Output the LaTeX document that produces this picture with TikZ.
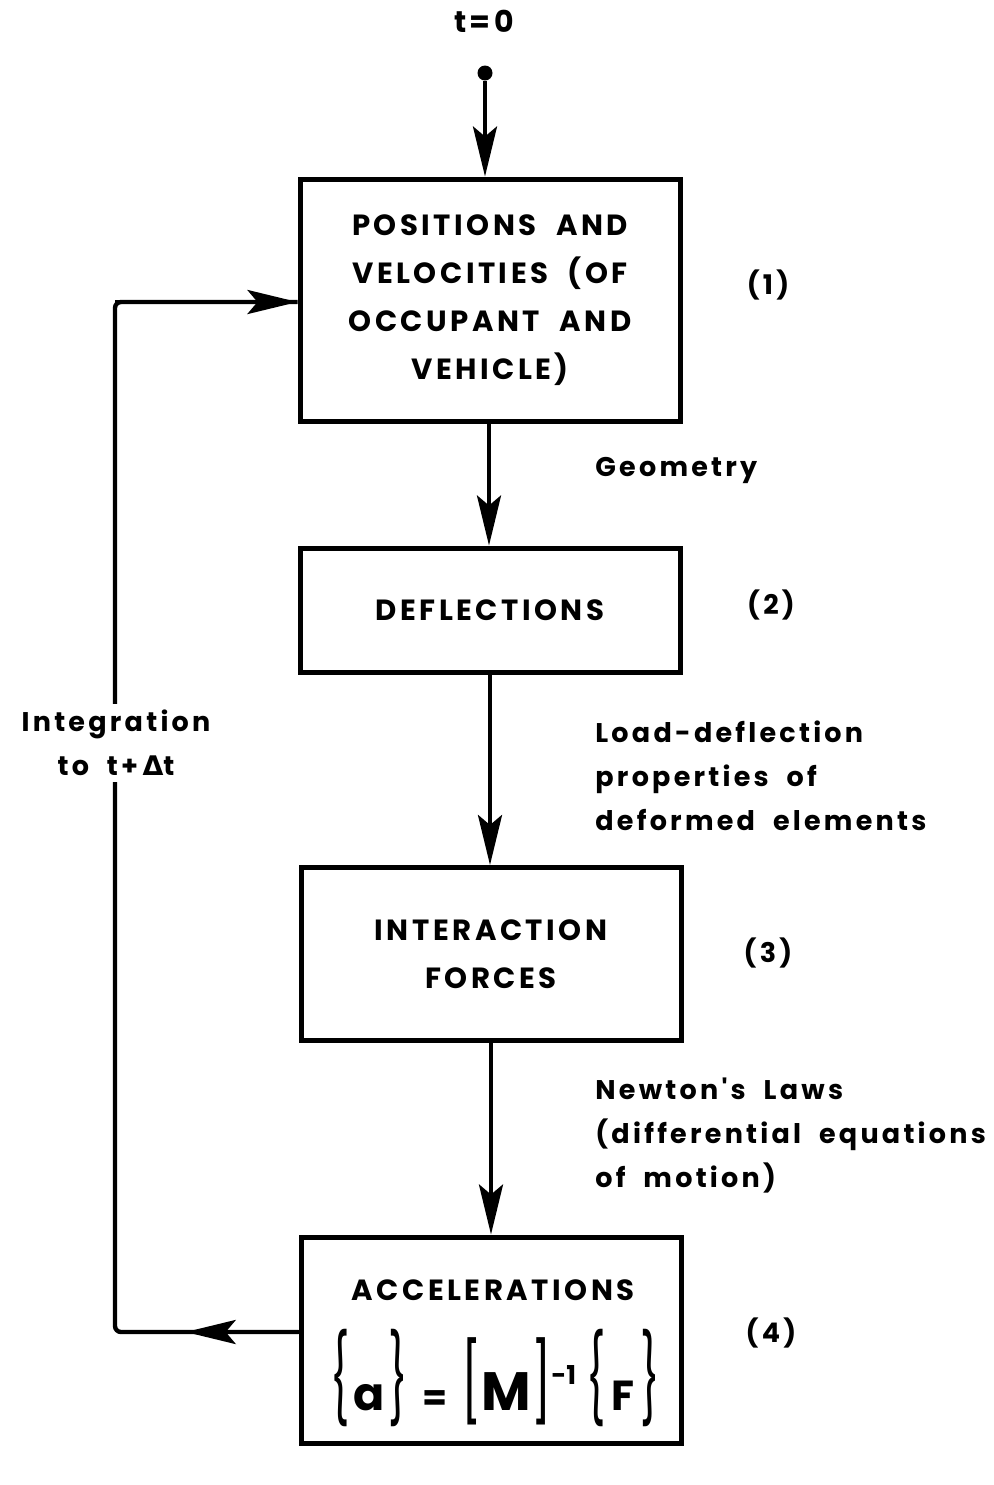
\documentclass[tikz,border=0pt]{standalone}
\usepackage{fontspec}
\usepackage{graphicx}
\setmainfont{Poppins}
\newfontfamily\lblfont{Poppins}[LetterSpace=12,WordSpace=1.8]
\newfontfamily\boxfont{Poppins}[LetterSpace=12,WordSpace=2]
\newfontfamily\grkfont{DejaVu Sans}
\usetikzlibrary{arrows.meta,calc}
\begin{document}
\begin{tikzpicture}[x=0.5pt,y=-0.5pt,
  box/.style={draw,line width=2.5pt,minimum width=190pt,align=center,
    font=\boxfont\bfseries\fontsize{14.6}{24}\selectfont},
  flow/.style={line width=2.2pt},
  arr/.style={line width=2.2pt,-{Stealth[length=25pt,width=12pt,inset=5pt]}},
  lbl/.style={anchor=north west,align=left,inner sep=0pt,
    font=\lblfont\bfseries\fontsize{13.5}{22}\selectfont},
  num/.style={font=\lblfont\bfseries\fontsize{13.5}{16}\selectfont},
  dot/.style={circle,fill,inner sep=0pt,minimum size=7.5pt}]
\useasboundingbox (0,0) rectangle (994,1485);

% boxes
\node[box,minimum height=121pt] (b1) at (490,300)
  {POSITIONS AND\\VELOCITIES (OF\\OCCUPANT AND\\VEHICLE)};
\node[box,minimum height=62pt] (b2) at (490,610) {DEFLECTIONS};
\node[box,minimum height=86.5pt] (b3) at (491,954) {INTERACTION\\FORCES};
\node[box,minimum height=103pt] (b4) at (491,1340) {};
\node[font=\boxfont\bfseries\fontsize{14.6}{16}\selectfont] (acc) at (493,1290) {ACCELERATIONS};
\node[inner sep=0pt] (eq) at (495,1378) {%
  \scalebox{0.7}[1.45]{\fontsize{30}{30}\selectfont\{}\hspace{2pt}%
  {\fontsize{23}{23}\selectfont\bfseries a}\hspace{2pt}%
  \scalebox{0.7}[1.45]{\fontsize{30}{30}\selectfont\}}\hspace{7pt}%
  {\fontsize{18}{18}\selectfont\bfseries =}\hspace{7pt}%
  \scalebox{0.8}[1.3]{\fontsize{30}{30}\selectfont[}%
  {\fontsize{27}{27}\selectfont\bfseries M}%
  \scalebox{0.8}[1.3]{\fontsize{30}{30}\selectfont]}%
  \raisebox{13pt}{\fontsize{13}{13}\selectfont\bfseries -1}\hspace{5pt}%
  \scalebox{0.7}[1.45]{\fontsize{30}{30}\selectfont\{}\hspace{3pt}%
  {\fontsize{21}{21}\selectfont\bfseries F}\hspace{3pt}%
  \scalebox{0.7}[1.45]{\fontsize{30}{30}\selectfont\}}};

% start
\node[font=\lblfont\bfseries\fontsize{15}{18}\selectfont] (t0) at (484,21) {t=0};
\node[dot] (d0) at (485,73) {};
\draw[arr] (d0) -- (b1.north -| d0);

% downward flow
\draw[arr] (b1.south -| 489,0) -- (b2.north -| 489,0);
\draw[arr] (b2.south -| 490,0) -- (b3.north -| 490,0);
\draw[arr] (b3.south -| 491,0) -- (b4.north -| 491,0);

% side labels
\node[lbl,anchor=west] (g) at (595,470) {Geometry};
\node[lbl] (ld) at (595,720) {Load-deflection\\properties of\\deformed elements};
\node[lbl] (nl) at (595,1077) {Newton's Laws\\(differential equations\\of motion)};

% numbers
\node[num] (n1) at (768,285) {(1)};
\node[num] (n2) at (771,605) {(2)};
\node[num] (n3) at (768,953) {(3)};
\node[num] (n4) at (771,1333) {(4)};

% feedback loop
\coordinate (bl) at (115,1332);
\coordinate (tl) at (115,302);
\draw[flow,rounded corners=3pt] (b4.west |- bl) -- (bl) -- (tl) -- (b1.west |- tl);
\draw[arr] (b4.west |- bl) -- ($(b4.west |- bl)!0.615!(bl)$);
\draw[arr] (tl) -- (b1.west |- tl);
\node[fill=white,align=center,inner sep=3pt,
  font=\lblfont\bfseries\fontsize{13.5}{22}\selectfont] (integ) at (116,743)
  {Integration\\to t+\,{\grkfont\bfseries Δ}t};
\end{tikzpicture}
\end{document}
